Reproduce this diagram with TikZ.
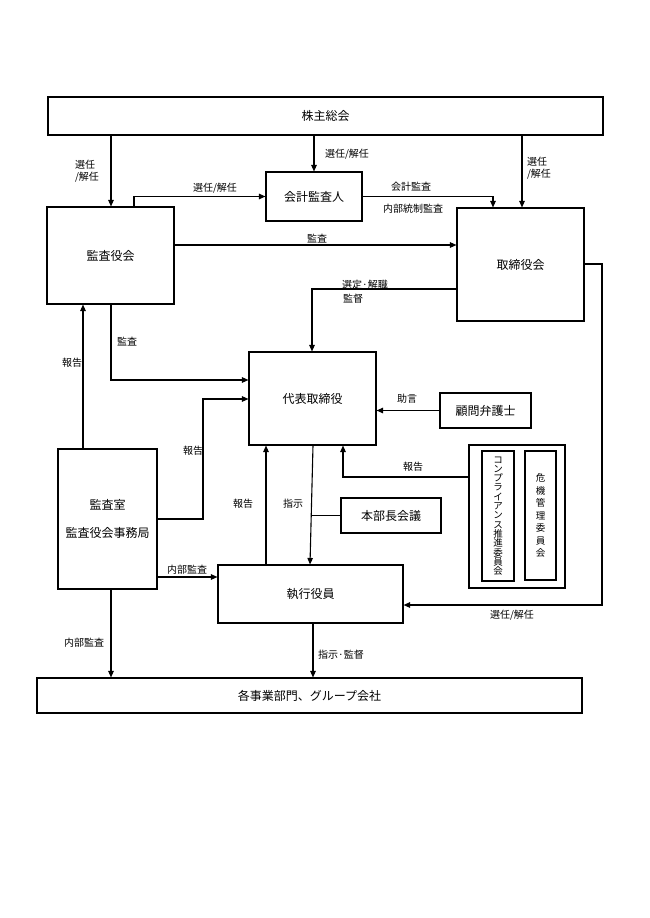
\documentclass[tikz,border=0pt]{standalone}
\usepackage{fontspec}
\setmainfont{Noto Sans CJK JP}
\usetikzlibrary{arrows.meta}
\begin{document}
\begin{tikzpicture}[x=1pt,y=-1pt,
  box/.style={draw, line width=1.1pt, inner sep=0pt, font=\fontsize{12}{14}\selectfont, align=center},
  vtext/.style={draw, line width=1.1pt, inner sep=0pt, align=center},
  lbl/.style={font=\fontsize{10}{12.5}\selectfont, inner sep=0pt, align=left},
  conn/.style={draw, line width=1.1pt},
  arr/.style={conn, -{Triangle[length=6.5pt,width=5.5pt]}}]
\fill[white] (0,0) rectangle (649,918);
\useasboundingbox (0,0) rectangle (649,918);

% boxes
\node[box, minimum width=555pt, minimum height=38pt] (top) at (325.5,116) {株主総会};
\node[box, minimum width=96pt, minimum height=49pt] (kaikei) at (314,196.5) {会計監査人};
\node[box, minimum width=127pt, minimum height=97pt] (kansayaku) at (110.5,255.5) {監査役会};
\node[box, minimum width=127pt, minimum height=113pt] (torishimari) at (520.5,264.5) {取締役会};
\node[box, minimum width=127pt, minimum height=93pt] (daihyo) at (312.5,398.5) {代表取締役};
\node[box, minimum width=91pt, minimum height=35pt] (komon) at (485.5,410.5) {顧問弁護士};
\node[box, minimum width=96pt, minimum height=143pt] (outer) at (517,516.5) {};
\node[vtext, minimum width=32pt, minimum height=130pt, font=\fontsize{9.5}{9.3}\selectfont] (comp) at (498,516)
  {コ\\ン\\プ\\ラ\\イ\\ア\\ン\\ス\\推\\進\\委\\員\\会};
\node[vtext, minimum width=31pt, minimum height=129pt, font=\fontsize{9.5}{12.5}\selectfont] (kiki) at (540.5,515.5)
  {危\\機\\管\\理\\委\\員\\会};
\node[box, minimum width=100pt, minimum height=35pt] (honbu) at (391,515.5) {本部長会議};
\node[box, minimum width=99pt, minimum height=140pt] (kansashitsu) at (107.5,519) {監査室\\[14pt]監査役会事務局};
\node[box, minimum width=185pt, minimum height=58pt] (shikko) at (310.5,594) {執行役員};
\node[box, minimum width=545pt, minimum height=35pt] (bottom) at (309.5,695.5) {各事業部門、グループ会社};

% connectors
\draw[arr] (top.south -| 111,0) -- (kansayaku.north -| 111,0);
\node[lbl] (l1) at (87,171) {選任\\/解任};
\draw[arr] (top.south -| 314,0) -- (kaikei.north);
\node[lbl] (l2) at (347,154) {選任/解任};
\draw[arr] (top.south -| 522,0) -- (torishimari.north -| 522,0);
\node[lbl] (l3) at (539,168) {選任\\/解任};

\draw[arr] (kansayaku.north -| 134,0) |- (kaikei.west);
\node[lbl] (l4) at (215,188) {選任/解任};
\draw[arr] (kaikei.east) -| (torishimari.north -| 493,0);
\node[lbl] (l5) at (411,187) {会計監査};
\node[lbl] (l6) at (413,209) {内部統制監査};

\draw[arr] (kansayaku.east |- 0,245) -- (torishimari.west |- 0,245);
\node[lbl] (l7) at (317,239) {監査};

\draw[arr] (torishimari.west |- 0,289) -| (daihyo.north -| 312,0);
\node[lbl] (l8) at (365,285) {選定·解職};
\node[lbl] (l9) at (353,299) {監督};

\draw[arr] (kansayaku.south -| 111,0) |- (daihyo.west |- 0,380);
\node[lbl] (l10) at (127,342) {監査};

\draw[arr] (kansashitsu.north -| 83,0) -- (kansayaku.south -| 83,0);
\node[lbl] (l11) at (72,363) {報告};

\draw[arr] (kansashitsu.east |- 0,519) -| (203,399) -- (daihyo.west |- 0,399);
\node[lbl] (l12) at (193,451) {報告};

\draw[arr] (kansashitsu.east |- 0,577) -- (shikko.west |- 0,577);
\node[lbl] (l13) at (187,570) {内部監査};

\draw[arr] (shikko.north -| 266,0) -- (daihyo.south -| 266,0);
\node[lbl] (l14) at (243,504) {報告};

\draw[arr] (daihyo.south -| 313,0) -- (shikko.north -| 310,0);
\node[lbl] (l15) at (293,504) {指示};
\draw[conn] (honbu.west) -- (honbu.west -| 311.5,0);

\draw[arr] (komon.west) -- (daihyo.east |- komon.west);
\node[lbl] (l16) at (407,399) {助言};

\draw[arr] (outer.west |- 0,477) -| (daihyo.south -| 343,0);
\node[lbl] (l17) at (413,467) {報告};

\draw[arr] (torishimari.east |- 0,264) -| (602,605) -- (shikko.east |- 0,605);
\node[lbl] (l18) at (512,615) {選任/解任};

\draw[arr] (kansashitsu.south -| 111,0) -- (bottom.north -| 111,0);
\node[lbl] (l19) at (84,643) {内部監査};

\draw[arr] (shikko.south -| 313,0) -- (bottom.north -| 313,0);
\node[lbl] (l20) at (341,655) {指示·監督};
\end{tikzpicture}
\end{document}
